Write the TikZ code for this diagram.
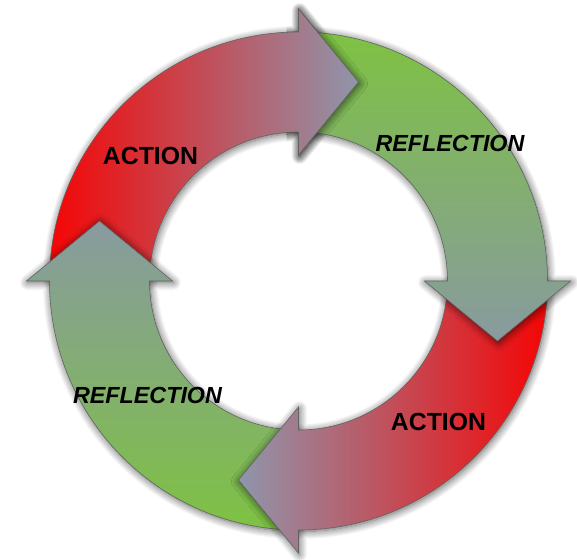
\documentclass[tikz,border=0pt]{standalone}
\usepackage{fontspec}
\setmainfont{Liberation Sans}
\usetikzlibrary{shadows.blur}
\definecolor{cred}{RGB}{245,5,5}
\definecolor{credend}{RGB}{143,150,172}
\definecolor{cgreen}{RGB}{126,194,66}
\definecolor{cgreenend}{RGB}{136,154,160}
\definecolor{cedge}{RGB}{95,100,95}
\tikzset{
  arrowshape/.style={draw=cedge, line width=0.6pt, line join=miter,
    blur shadow={shadow xshift=1pt, shadow yshift=-1.5pt, shadow blur radius=8pt, shadow opacity=65, shadow blur steps=12}},
  labelaction/.style={font=\fontsize{24.8}{28}\selectfont\bfseries, text=black, inner sep=0pt},
  labelreflect/.style={font=\fontsize{23.3}{27}\selectfont\bfseries\itshape, text=black, inner sep=0pt}
}
\newcommand{\toparrowpath}{(180:249) arc[start angle=180, end angle=90, radius=249] -- (0,272) -- (60,199) -- (0,126) -- (0,149) arc[start angle=90, end angle=180, radius=149] -- cycle}
\begin{document}
\begin{tikzpicture}[x=1pt,y=1pt]
\useasboundingbox (-298.5,-278) rectangle (278.5,281);
% top red arrow (ACTION)
\shade[arrowshape, left color=cred, right color=credend] \toparrowpath;
% left green arrow (REFLECTION)
\shade[arrowshape, bottom color=cgreen, top color=cgreenend]
  (270:249) arc[start angle=270, end angle=180, radius=249] -- (-272,0) -- (-199,60) -- (-126,0) -- (-149,0)
  arc[start angle=180, end angle=270, radius=149] -- cycle;
% bottom red arrow (ACTION)
\shade[arrowshape, right color=cred, left color=credend]
  (0:249) arc[start angle=360, end angle=270, radius=249] -- (0,-272) -- (-60,-199) -- (0,-126) -- (0,-149)
  arc[start angle=270, end angle=360, radius=149] -- cycle;
% right green arrow (REFLECTION)
\shade[arrowshape, top color=cgreen, bottom color=cgreenend]
  (90:249) arc[start angle=90, end angle=0, radius=249] -- (272,0) -- (199,-60) -- (126,0) -- (149,0)
  arc[start angle=0, end angle=90, radius=149] -- cycle;
% redraw head of top arrow over the green start
\begin{scope}
  \clip (-12,100) rectangle (90,290);
  \shade[arrowshape, left color=cred, right color=credend] \toparrowpath;
\end{scope}
% labels
\node[labelaction] (a1) at (-148,125.5) {ACTION};
\node[labelreflect] (r1) at (151.5,137.5) {REFLECTION};
\node[labelaction] (a2) at (140,-141) {ACTION};
\node[labelreflect] (r2) at (-151,-114.5) {REFLECTION};
\end{tikzpicture}
\end{document}
